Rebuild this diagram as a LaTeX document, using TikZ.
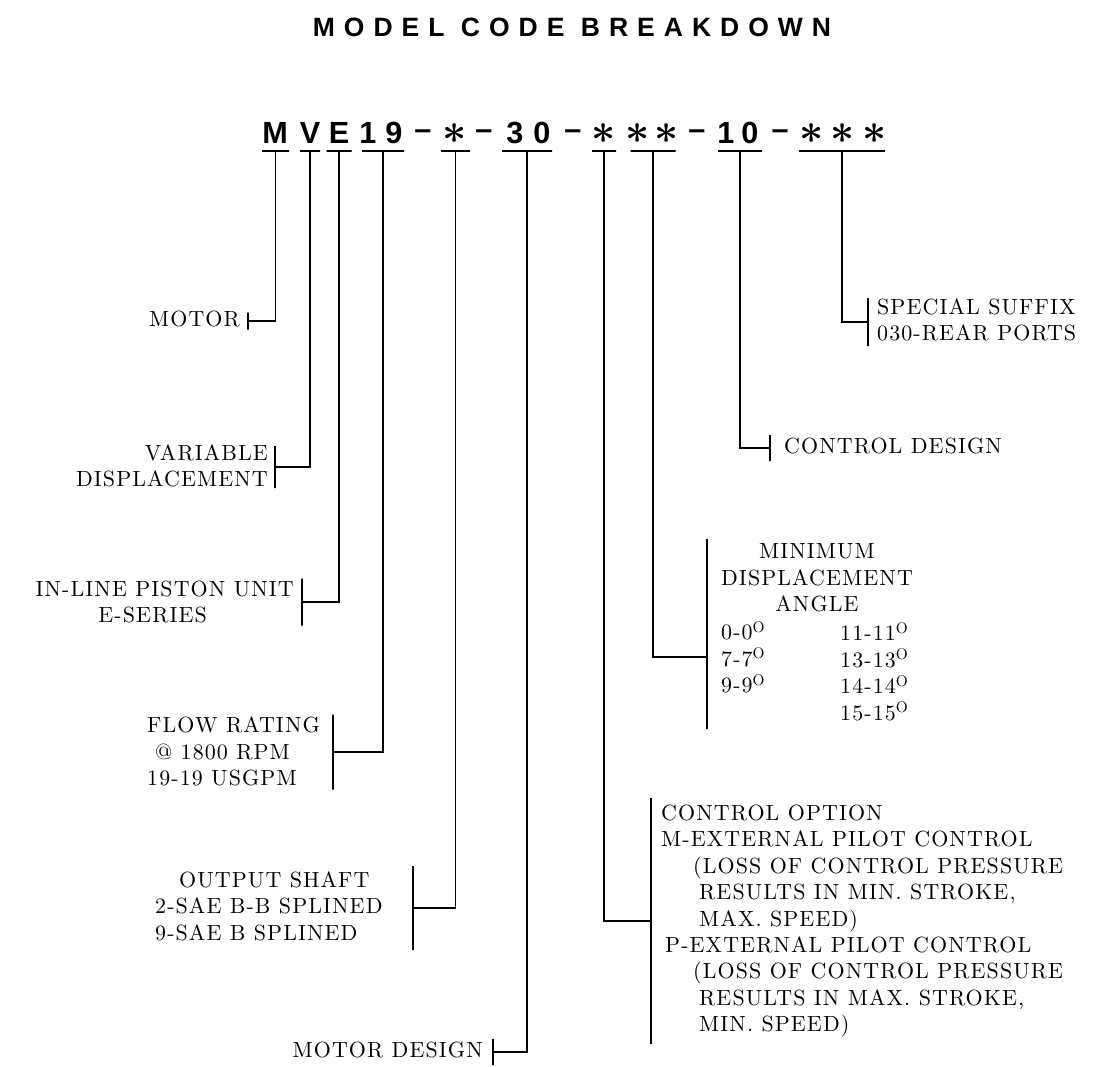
\documentclass[tikz,border=0pt]{standalone}
\usepackage{fontspec}
\newfontfamily\labelfont{lmroman10-regular.otf}[LetterSpace=5]
\newfontfamily\codefont{Liberation Sans}
\newfontfamily\titlefont{Liberation Sans}[LetterSpace=34]

\tikzset{
    codechar/.style={
        font=\codefont\bfseries\fontsize{30.6}{32}\selectfont,
        anchor=base,
        inner sep=0pt
    },
    asterisk/.style={
        anchor=base,
        inner sep=0pt
    },
    desc/.style={
        font=\labelfont\fontsize{21.96}{26.4}\selectfont,
        inner sep=0pt
    },
    uline/.style={
        draw,
        line width=1.3pt,
        minimum width=#1,
        minimum height=0pt,
        inner sep=0pt
    },
    tick/.style={
        draw,
        line width=1.3pt,
        minimum height=#1,
        minimum width=0pt,
        inner sep=0pt
    },
    lead/.style={
        line width=1.3pt
    }
}
\newcommand{\bigast}{\scalebox{4.2}{\boldmath$\ast$}}

\begin{document}
\begin{tikzpicture}[x=1pt,y=-1pt]
\useasboundingbox (0,0) rectangle (1095,1066);

    % Titel
    \path
        node[font=\titlefont\bfseries\fontsize{26.5}{28}\selectfont,
             anchor=base, inner sep=0pt] at (572,36) (title)
             {MODEL CODE BREAKDOWN};

    % Typenschluessel
    \path
        node[codechar] at (275,143) (cM)  {M}
        node[codechar] at (310,143) (cV)  {V}
        node[codechar] at (339,143) (cE)  {E}
        node[codechar] at (368,143) (c1)  {1}
        node[codechar] at (394,143) (c9)  {9}
        node[codechar] at (423,139) (d1)  {–}
        node[asterisk] at (455,143) (s1)  {\bigast}
        node[codechar] at (484,139) (d2)  {–}
        node[codechar] at (515,143) (c3)  {3}
        node[codechar] at (542,143) (c0)  {0}
        node[codechar] at (573,139) (d3)  {–}
        node[asterisk] at (604,143) (s2)  {\bigast}
        node[asterisk] at (638,143) (s3)  {\bigast}
        node[asterisk] at (667,143) (s4)  {\bigast}
        node[codechar] at (697,139) (d4)  {–}
        node[codechar] at (726,143) (c1b) {1}
        node[codechar] at (750,143) (c0b) {0}
        node[codechar] at (780,139) (d5)  {–}
        node[asterisk] at (812,143) (s5)  {\bigast}
        node[asterisk] at (843,143) (s6)  {\bigast}
        node[asterisk] at (875,143) (s7)  {\bigast};

    % Unterstriche der Gruppen
    \path
        node[uline=27] at (275.5,151) (uM)  {}
        node[uline=20] at (310,151)   (uV)  {}
        node[uline=25] at (339,151)   (uE)  {}
        node[uline=42] at (383,151)   (u19) {}
        node[uline=29] at (455.5,151) (uS)  {}
        node[uline=50] at (527,151)   (u30) {}
        node[uline=24] at (604,151)   (uO)  {}
        node[uline=45] at (653,151)   (uA)  {}
        node[uline=44] at (740,151)   (uC)  {}
        node[uline=86] at (842,151)   (uX)  {};

    % Klammerstriche an den Texten
    \path
        node[tick=17]  at (248,321)  (kM)  {}
        node[tick=42]  at (275,467)  (kV)  {}
        node[tick=47]  at (302,602)  (kE)  {}
        node[tick=75]  at (333,752)  (k19) {}
        node[tick=84]  at (413,908)  (kS)  {}
        node[tick=26]  at (493,1052) (k30) {}
        node[tick=246] at (651,921)  (kO)  {}
        node[tick=190] at (707,634)  (kA)  {}
        node[tick=26]  at (770,448)  (kC)  {}
        node[tick=48]  at (868,322)  (kX)  {};
    \coordinate (bA) at (707,657);

    % Texte links (Basislinie = letzte Zeile)
    \path
        node[desc, anchor=base east] at (240,326.7) (lMotor) {MOTOR}
        node[desc, anchor=base east, align=right] at (268,486.7) (lVar)
            {VARIABLE\\DISPLACEMENT}
        node[desc, anchor=base east] at (294,596) (lInline) {IN-LINE PISTON UNIT}
        node[desc, anchor=base east] at (207,622) (lSeries) {E-SERIES}
        node[desc, anchor=base west, align=left] at (147,785.7) (lFlow)
            {FLOW RATING\\\hspace*{8pt}@ 1800 RPM\\19-19 USGPM}
        node[desc, anchor=base west, align=left] at (155,940) (lShaft)
            {\hspace*{24pt}OUTPUT SHAFT\\2-SAE B-B SPLINED\\9-SAE B SPLINED}
        node[desc, anchor=base east] at (483,1057) (lDesign) {MOTOR DESIGN};

    % Texte rechts
    \path
        node[desc, anchor=base west, align=left] at (661,1031.7) (lOption)
            {CONTROL OPTION\\
             M-EXTERNAL PILOT CONTROL\\
             \hspace*{32pt}(LOSS OF CONTROL PRESSURE\\
             \hspace*{38pt}RESULTS IN MIN. STROKE,\\
             \hspace*{38pt}MAX. SPEED)\\
             \hspace*{4pt}P-EXTERNAL PILOT CONTROL\\
             \hspace*{32pt}(LOSS OF CONTROL PRESSURE\\
             \hspace*{38pt}RESULTS IN MAX. STROKE,\\
             \hspace*{38pt}MIN. SPEED)}
        node[desc, anchor=base, align=center] at (817,611.7) (lAngle)
            {MINIMUM\\DISPLACEMENT\\ANGLE}
        node[desc, anchor=base west, align=left] at (721,692.7) (lAngA)
            {0-0\textsuperscript{O}\\7-7\textsuperscript{O}\\9-9\textsuperscript{O}}
        node[desc, anchor=base west, align=left] at (840,720) (lAngB)
            {11-11\textsuperscript{O}\\13-13\textsuperscript{O}\\14-14\textsuperscript{O}\\15-15\textsuperscript{O}}
        node[desc, anchor=base west] at (784,453.3) (lCtrl) {CONTROL DESIGN}
        node[desc, anchor=base west, align=left] at (877,340.7) (lSuffix)
            {SPECIAL SUFFIX\\030-REAR PORTS};

    % Verbindungen vom Schluessel zu den Texten
    \draw[lead]
        (uM.center)  |- (kM.center)
        (uV.center)  |- (kV.center)
        (uE.center)  |- (kE.center)
        (u19.center) |- (k19.center)
        (uS.center)  |- (kS.center)
        (u30.center) |- (k30.center)
        (uO.center)  |- (kO.center)
        (uA.center)  |- (bA)
        (uC.center)  |- (kC.center)
        (uX.center)  |- (kX.center);
\end{tikzpicture}
\end{document}
